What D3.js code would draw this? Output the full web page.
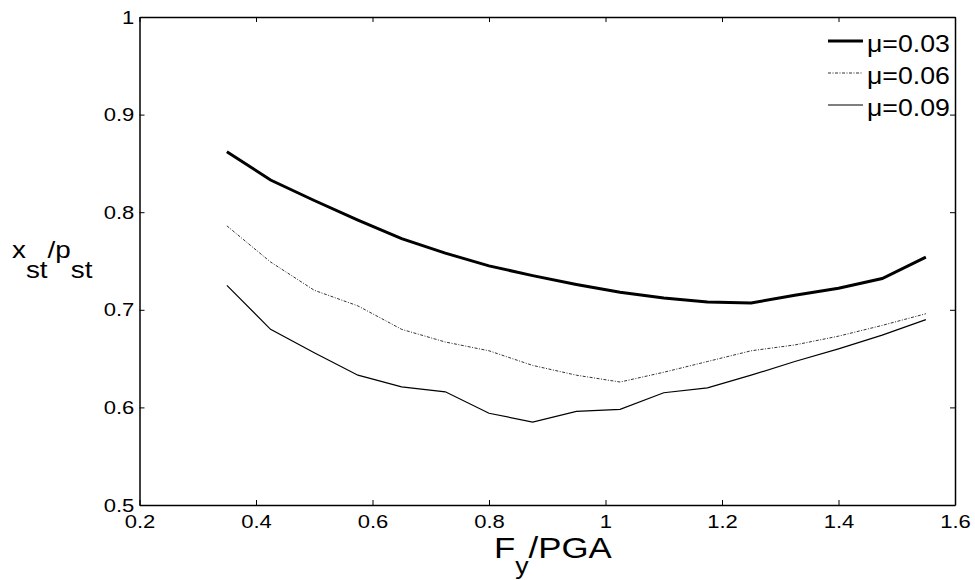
<!DOCTYPE html>
<html>
<head>
<meta charset="utf-8">
<script src="https://cdn.jsdelivr.net/npm/d3@7"></script>
<style>
  body { margin: 0; background: #fff; }
  text { font-family: "Liberation Sans", Arial, sans-serif; fill: #000; }
</style>
</head>
<body>
<div id="chart"></div>
<script>
// data
var fyPga = [0.35, 0.425, 0.5, 0.575, 0.65, 0.725, 0.8, 0.875, 0.95, 1.025, 1.1, 1.175, 1.25, 1.325, 1.4, 1.475, 1.55];
var mu003 = [0.862, 0.833, 0.812, 0.792, 0.773, 0.758, 0.745, 0.735, 0.726, 0.718, 0.712, 0.708, 0.707, 0.715, 0.722, 0.732, 0.754];
var mu006 = [0.786, 0.749, 0.720, 0.704, 0.680, 0.667, 0.658, 0.643, 0.633, 0.626, 0.636, 0.647, 0.658, 0.664, 0.673, 0.684, 0.696];
var mu009 = [0.725, 0.680, 0.656, 0.633, 0.621, 0.616, 0.594, 0.585, 0.596, 0.598, 0.615, 0.620, 0.633, 0.647, 0.660, 0.674, 0.690];
var seriesNames = ["\u03bc=0.03", "\u03bc=0.06", "\u03bc=0.09"];
var xTicks = [0.2, 0.4, 0.6, 0.8, 1, 1.2, 1.4, 1.6];
var yTicks = [0.5, 0.6, 0.7, 0.8, 0.9, 1];

var svgWidth = 975;
var svgHeight = 580;
var margin = { top: 17, right: 20, bottom: 75, left: 139.5 };
var width = svgWidth - margin.left - margin.right;
var height = svgHeight - margin.top - margin.bottom;

// the original text is a little wider than Liberation Sans
var stretch = "scale(1.16,1)";

var svg = d3.select("#chart")
  .append("svg")
  .attr("width", svgWidth)
  .attr("height", svgHeight);

var chartGroup = svg.append("g")
  .attr("transform", `translate(${margin.left}, ${margin.top})`);

var xScale = d3.scaleLinear().domain([0.2, 1.6]).range([0, width]);
var yScale = d3.scaleLinear().domain([0.5, 1]).range([height, 0]);

var fmt = d => String(+d.toFixed(1));

// axes with inward ticks on all four sides
var bottomAxis = d3.axisBottom(xScale).tickValues(xTicks).tickFormat(fmt).tickSizeInner(-5).tickSizeOuter(0).tickPadding(10);
var topAxis = d3.axisTop(xScale).tickValues(xTicks).tickFormat("").tickSizeInner(-5).tickSizeOuter(0);
var leftAxis = d3.axisLeft(yScale).tickValues(yTicks).tickFormat(fmt).tickSizeInner(-5).tickSizeOuter(0).tickPadding(4.5);
var rightAxis = d3.axisRight(yScale).tickValues(yTicks).tickFormat("").tickSizeInner(-5).tickSizeOuter(0);

chartGroup.append("g").attr("transform", `translate(0, ${height})`).call(bottomAxis);
chartGroup.append("g").call(topAxis);
chartGroup.append("g").call(leftAxis);
chartGroup.append("g").attr("transform", `translate(${width}, 0)`).call(rightAxis);

chartGroup.selectAll(".domain").attr("stroke", "#000").attr("stroke-width", 1.5);
chartGroup.selectAll(".tick line").attr("stroke", "#000");
chartGroup.selectAll(".tick text")
  .style("font-size", "19px")
  .attr("transform", stretch);

var series = [
  { name: seriesNames[0], values: mu003, width: 3, dash: null, color: "#000" },
  { name: seriesNames[1], values: mu006, width: 1, dash: "3,1.5,1,1.5", color: "#333" },
  { name: seriesNames[2], values: mu009, width: 1.2, dash: null, color: "#000" }
];

var line = d3.line()
  .x((d, i) => xScale(fyPga[i]))
  .y(d => yScale(d));

chartGroup.selectAll(".series")
  .data(series)
  .enter()
  .append("path")
  .attr("class", "series")
  .attr("fill", "none")
  .attr("stroke", d => d.color)
  .attr("stroke-width", d => d.width)
  .attr("stroke-dasharray", d => d.dash)
  .attr("d", d => line(d.values));

// legend
var legend = chartGroup.append("g")
  .attr("transform", `translate(${width - 127}, 24)`);

var rows = legend.selectAll("g")
  .data(series)
  .enter()
  .append("g")
  .attr("transform", (d, i) => `translate(0, ${i * 32})`);

rows.append("line")
  .attr("x1", 0).attr("x2", 35)
  .attr("stroke", d => d.color)
  .attr("stroke-width", d => d.width)
  .attr("stroke-dasharray", d => d.dash);

rows.append("text")
  .attr("transform", "translate(39,0) " + stretch)
  .attr("dy", "0.48em")
  .style("font-size", "23px")
  .text(d => d.name);

// axis labels
var yLabel = svg.append("text")
  .attr("transform", "translate(12, 258) " + stretch)
  .style("font-size", "24px");
yLabel.append("tspan").text("x");
yLabel.append("tspan").attr("dy", 20).text("st");
yLabel.append("tspan").attr("dy", -20).text("/p");
yLabel.append("tspan").attr("dy", 20).text("st");

var xLabel = svg.append("text")
  .attr("transform", "translate(494, 558) " + stretch)
  .style("font-size", "30px");
xLabel.append("tspan").text("F");
xLabel.append("tspan").attr("dy", 16).style("font-size", "23px").text("y");
xLabel.append("tspan").attr("dy", -16).text("/PGA");
</script>
</body>
</html>
